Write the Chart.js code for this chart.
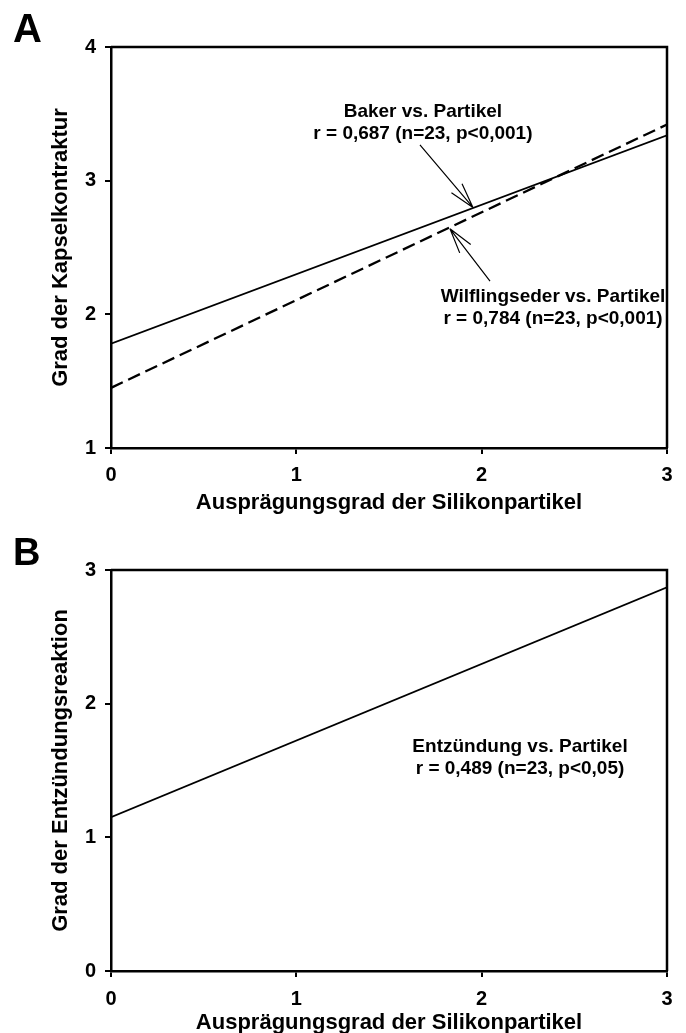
<!DOCTYPE html>
<html>
<head>
<meta charset="utf-8">
<script src="https://cdn.jsdelivr.net/npm/chart.js@4.4.1/dist/chart.umd.min.js"></script>
<style>
  html, body { margin: 0; padding: 0; background: #fff; overflow: hidden; }
  body { width: 686px; height: 1033px; position: relative; }
  canvas { position: absolute; left: 0; }
  #chartA { top: 0; }
  #chartB { top: 520px; }
</style>
</head>
<body>
<canvas id="chartA" width="686" height="520"></canvas>
<canvas id="chartB" width="686" height="516"></canvas>
<script>
// regression lines (values at x = 0 and x = 3)
const xEnds = [0, 3];
const bakerY = [1.78, 3.34];
const wilflingsederY = [1.45, 3.42];
const entzuendungY = [1.15, 2.87];

const xTitle = 'Ausprägungsgrad der Silikonpartikel';
const yTitleA = 'Grad der Kapselkontraktur';
const yTitleB = 'Grad der Entzündungsreaktion';

const notesA = [
    { x: 1.683, y: 3.514, lines: ['Baker vs. Partikel', 'r = 0,687 (n=23, p<0,001)'] },
    { x: 2.385, y: 2.13, lines: ['Wilflingseder vs. Partikel', 'r = 0,784 (n=23, p<0,001)'] }
];
const arrowsA = [
    { from: [1.667, 3.267], to: [1.953, 2.80] },
    { from: [2.045, 2.249], to: [1.829, 2.64] }
];
const notesB = [
    { x: 2.207, y: 1.676, lines: ['Entzündung vs. Partikel', 'r = 0,489 (n=23, p<0,05)'] }
];

const FONT = "'Liberation Sans', Arial, sans-serif";
Chart.defaults.color = '#000';
Chart.defaults.font.family = FONT;

function pts(ys) {
    return xEnds.map((x, i) => ({ x: x, y: ys[i] }));
}

const extras = {
    id: 'extras',
    afterDatasetsDraw(chart, args, opts) {
        const { ctx, chartArea: a, scales } = chart;
        const sx = scales.x, sy = scales.y;
        ctx.save();
        // box: top and right edges
        ctx.strokeStyle = '#000';
        ctx.lineWidth = 2.5;
        ctx.beginPath();
        ctx.moveTo(a.left, a.top);
        ctx.lineTo(a.right, a.top);
        ctx.lineTo(a.right, a.bottom);
        ctx.stroke();

        // arrows
        ctx.lineWidth = 1.2;
        (opts.arrows || []).forEach(ar => {
            const x1 = sx.getPixelForValue(ar.from[0]), y1 = sy.getPixelForValue(ar.from[1]);
            const x2 = sx.getPixelForValue(ar.to[0]), y2 = sy.getPixelForValue(ar.to[1]);
            const ang = Math.atan2(y1 - y2, x1 - x2);
            ctx.beginPath();
            ctx.moveTo(x1, y1);
            ctx.lineTo(x2, y2);
            [-0.27, 0.27].forEach(d => {
                ctx.moveTo(x2, y2);
                ctx.lineTo(x2 + 26 * Math.cos(ang + d), y2 + 26 * Math.sin(ang + d));
            });
            ctx.stroke();
        });

        // text notes
        ctx.fillStyle = '#000';
        ctx.font = 'bold 19px ' + FONT;
        ctx.textAlign = 'center';
        ctx.textBaseline = 'middle';
        (opts.notes || []).forEach(n => {
            const cx = sx.getPixelForValue(n.x), cy = sy.getPixelForValue(n.y);
            n.lines.forEach((t, i) => ctx.fillText(t, cx, cy + i * 22));
        });

        // panel letter
        ctx.font = 'bold ' + opts.letterSize + 'px ' + FONT;
        ctx.textAlign = 'left';
        ctx.textBaseline = 'alphabetic';
        ctx.fillText(opts.letter, 13, opts.letterY);
        ctx.restore();
    }
};

function makeChart(id, datasets, yMin, yMax, yTitle, xHeight, padTop, xTickPad, xTitlePad, extra) {
    return new Chart(id, {
        type: 'scatter',
        data: { datasets: datasets },
        options: {
            responsive: false,
            devicePixelRatio: 1,
            animation: false,
            layout: { padding: { top: padTop, right: 19, left: 0, bottom: 0 } },
            plugins: { legend: { display: false }, tooltip: { enabled: false }, extras: extra },
            scales: {
                x: {
                    type: 'linear', min: 0, max: 3,
                    border: { color: '#000', width: 2.5 },
                    grid: { drawOnChartArea: false, drawTicks: true, tickLength: 6, color: '#000', lineWidth: 2 },
                    ticks: { stepSize: 1, padding: xTickPad, font: { size: 20, weight: 'bold' } },
                    title: { display: true, text: xTitle, font: { size: 22, weight: 'bold' }, padding: { top: 0, bottom: xTitlePad } },
                    afterFit: s => { s.height = xHeight; s.paddingLeft = 0; s.paddingRight = 0; }
                },
                y: {
                    type: 'linear', min: yMin, max: yMax,
                    border: { color: '#000', width: 2.5 },
                    grid: { drawOnChartArea: false, drawTicks: true, tickLength: 6, color: '#000', lineWidth: 2 },
                    ticks: { stepSize: 1, padding: 9, font: { size: 20, weight: 'bold' } },
                    title: { display: true, text: yTitle, font: { size: 22, weight: 'bold' }, padding: { top: 48, bottom: 0 } },
                    afterFit: s => { s.width = 111; s.paddingTop = 0; s.paddingBottom = 0; }
                }
            }
        },
        plugins: [extras]
    });
}

makeChart('chartA', [
    { label: 'Baker', data: pts(bakerY), showLine: true, borderColor: '#000', borderWidth: 1.8, pointRadius: 0 },
    { label: 'Wilflingseder', data: pts(wilflingsederY), showLine: true, borderColor: '#000', borderWidth: 2.3, borderDash: [13, 6], pointRadius: 0 }
], 1, 4, yTitleA, 72, 47, 9, 4,
    { notes: notesA, arrows: arrowsA, letter: 'A', letterSize: 40, letterY: 42 });

makeChart('chartB', [
    { label: 'Entzündung', data: pts(entzuendungY), showLine: true, borderColor: '#000', borderWidth: 1.8, pointRadius: 0 }
], 0, 3, yTitleB, 65, 50, 10, 0,
    { notes: notesB, arrows: [], letter: 'B', letterSize: 38, letterY: 45 });
</script>
</body>
</html>
